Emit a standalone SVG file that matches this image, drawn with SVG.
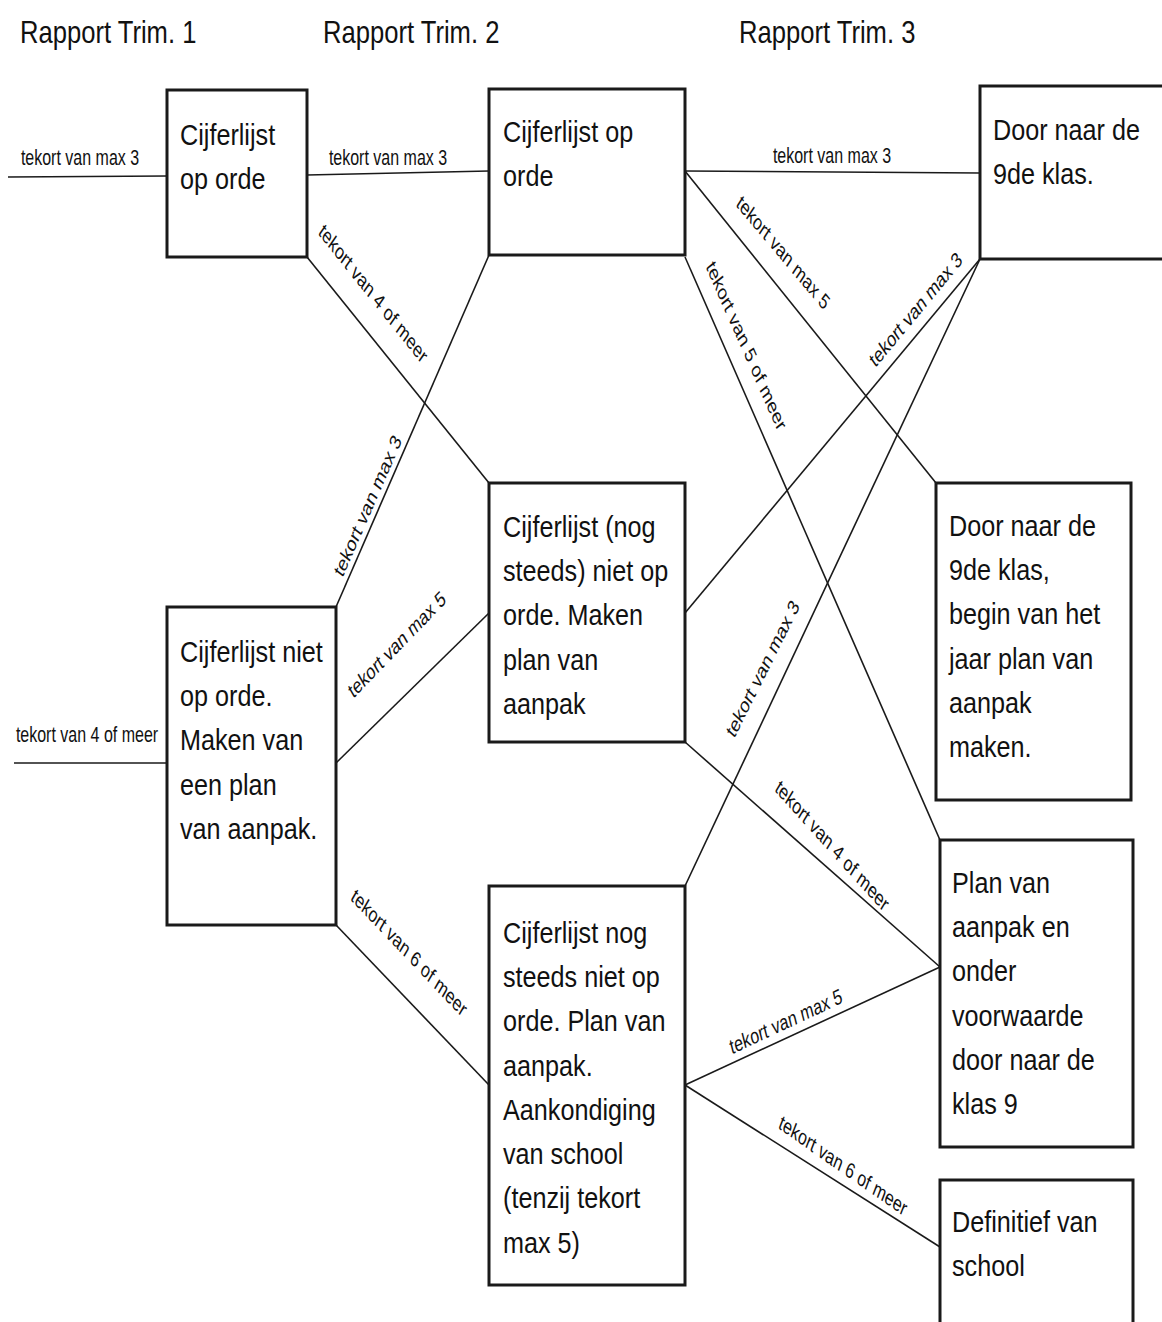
<svg xmlns="http://www.w3.org/2000/svg" width="1162" height="1322" viewBox="0 0 1162 1322">
<style>
.box{fill:#fff;stroke:#1a1a1a;stroke-width:3}
.ln{stroke:#1a1a1a;stroke-width:1.6;fill:none}
.bt{font-family:"Liberation Sans",Arial,sans-serif;font-size:25.2px;fill:#111}
.hd{font-family:"Liberation Sans",Arial,sans-serif;font-size:25.6px;fill:#111}
.lb{font-family:"Liberation Sans",Arial,sans-serif;font-size:16px;fill:#111;text-anchor:middle}
</style>
<rect width="1162" height="1322" fill="#fff"/>
<g id="headers">
<text class="hd" transform="translate(20,43) scale(1,1.25)">Rapport Trim. 1</text>
<text class="hd" transform="translate(323,43) scale(1,1.25)">Rapport Trim. 2</text>
<text class="hd" transform="translate(739,43) scale(1,1.25)">Rapport Trim. 3</text>
</g>
<g id="connectors">
<line class="ln" x1="8" y1="177" x2="167" y2="176"/>
<line class="ln" x1="14" y1="763" x2="167" y2="763"/>
<line class="ln" x1="307" y1="175" x2="489" y2="171"/>
<line class="ln" x1="307" y1="257" x2="489" y2="483"/>
<line class="ln" x1="336" y1="607" x2="489" y2="255"/>
<line class="ln" x1="336" y1="763" x2="489" y2="613"/>
<line class="ln" x1="336" y1="925" x2="489" y2="1085"/>
<line class="ln" x1="685" y1="171" x2="980" y2="173"/>
<line class="ln" x1="685" y1="171" x2="936" y2="483"/>
<line class="ln" x1="685" y1="257" x2="940" y2="840"/>
<line class="ln" x1="685" y1="613" x2="980" y2="259"/>
<line class="ln" x1="685" y1="886" x2="980" y2="259"/>
<line class="ln" x1="685" y1="742" x2="940" y2="967"/>
<line class="ln" x1="685" y1="1085" x2="940" y2="967"/>
<line class="ln" x1="685" y1="1085" x2="940" y2="1247"/>
<text class="lb" transform="translate(80,165) scale(1,1.35)">tekort van max 3</text>
<text class="lb" transform="translate(87,742) scale(1,1.35)">tekort van 4 of meer</text>
<text class="lb" transform="translate(388,165) scale(1,1.35)">tekort van max 3</text>
<text class="lb" transform="translate(832,163) scale(1,1.35)">tekort van max 3</text>
<text class="lb" y="5" transform="translate(373,294) scale(1,1.35) rotate(42.96)">tekort van 4 of meer</text>
<text class="lb" y="5" transform="translate(368,506) scale(1,1.35) rotate(-59.6)">tekort van max 3</text>
<text class="lb" y="5" transform="translate(397,645) scale(1,1.35) rotate(-37.5)">tekort van max 5</text>
<text class="lb" y="5" transform="translate(409,953) scale(1,1.35) rotate(38)">tekort van 6 of meer</text>
<text class="lb" y="5" transform="translate(783,253) scale(1,1.35) rotate(41.4)">tekort van max 5</text>
<text class="lb" y="5" transform="translate(746,346) scale(1,1.35) rotate(59.4)">tekort van 5 of meer</text>
<text class="lb" y="5" transform="translate(916,310) scale(1,1.35) rotate(-41.9)">tekort van max 3</text>
<text class="lb" y="5" transform="translate(763,669) scale(1,1.35) rotate(-56.06)">tekort van max 3</text>
<text class="lb" y="5" transform="translate(832,846) scale(1,1.35) rotate(39.45)">tekort van 4 of meer</text>
<text class="lb" y="5" transform="translate(786,1022) scale(1,1.35) rotate(-19.05)">tekort van max 5</text>
<text class="lb" y="5" transform="translate(843,1166) scale(1,1.35) rotate(27.4)">tekort van 6 of meer</text>
</g>
<g id="nodeA">
<rect class="box" x="167" y="90" width="140" height="167"/>
<text class="bt" transform="translate(180,145) scale(1,1.18)"><tspan x="0" y="0">Cijferlijst</tspan><tspan x="0" dy="37.5">op orde</tspan></text>
</g>
<g id="nodeB">
<rect class="box" x="489" y="89" width="196" height="166"/>
<text class="bt" transform="translate(503,142) scale(1,1.18)"><tspan x="0" y="0">Cijferlijst op</tspan><tspan x="0" dy="37.5">orde</tspan></text>
</g>
<g id="nodeC">
<rect class="box" x="980" y="86" width="200" height="173"/>
<text class="bt" transform="translate(993,140) scale(1,1.18)"><tspan x="0" y="0">Door naar de</tspan><tspan x="0" dy="37.5">9de klas.</tspan></text>
</g>
<g id="nodeD">
<rect class="box" x="167" y="607" width="169" height="318"/>
<text class="bt" transform="translate(180,662) scale(1,1.18)"><tspan x="0" y="0">Cijferlijst niet</tspan><tspan x="0" dy="37.5">op orde.</tspan><tspan x="0" dy="37.5">Maken van</tspan><tspan x="0" dy="37.5">een plan</tspan><tspan x="0" dy="37.5">van aanpak.</tspan></text>
</g>
<g id="nodeE">
<rect class="box" x="489" y="483" width="196" height="259"/>
<text class="bt" transform="translate(503,537) scale(1,1.18)"><tspan x="0" y="0">Cijferlijst (nog</tspan><tspan x="0" dy="37.5">steeds) niet op</tspan><tspan x="0" dy="37.5">orde. Maken</tspan><tspan x="0" dy="37.5">plan van</tspan><tspan x="0" dy="37.5">aanpak</tspan></text>
</g>
<g id="nodeF">
<rect class="box" x="489" y="886" width="196" height="399"/>
<text class="bt" transform="translate(503,943) scale(1,1.18)"><tspan x="0" y="0">Cijferlijst nog</tspan><tspan x="0" dy="37.5">steeds niet op</tspan><tspan x="0" dy="37.5">orde. Plan van</tspan><tspan x="0" dy="37.5">aanpak.</tspan><tspan x="0" dy="37.5">Aankondiging</tspan><tspan x="0" dy="37.5">van school</tspan><tspan x="0" dy="37.5">(tenzij tekort</tspan><tspan x="0" dy="37.5">max 5)</tspan></text>
</g>
<g id="nodeG">
<rect class="box" x="936" y="483" width="195" height="317"/>
<text class="bt" transform="translate(949,536) scale(1,1.18)"><tspan x="0" y="0">Door naar de</tspan><tspan x="0" dy="37.5">9de klas,</tspan><tspan x="0" dy="37.5">begin van het</tspan><tspan x="0" dy="37.5">jaar plan van</tspan><tspan x="0" dy="37.5">aanpak</tspan><tspan x="0" dy="37.5">maken.</tspan></text>
</g>
<g id="nodeH">
<rect class="box" x="940" y="840" width="193" height="307"/>
<text class="bt" transform="translate(952,893) scale(1,1.18)"><tspan x="0" y="0">Plan van</tspan><tspan x="0" dy="37.5">aanpak en</tspan><tspan x="0" dy="37.5">onder</tspan><tspan x="0" dy="37.5">voorwaarde</tspan><tspan x="0" dy="37.5">door naar de</tspan><tspan x="0" dy="37.5">klas 9</tspan></text>
</g>
<g id="nodeI">
<rect class="box" x="940" y="1180" width="193" height="170"/>
<text class="bt" transform="translate(952,1232) scale(1,1.18)"><tspan x="0" y="0">Definitief van</tspan><tspan x="0" dy="37.5">school</tspan></text>
</g>
</svg>
